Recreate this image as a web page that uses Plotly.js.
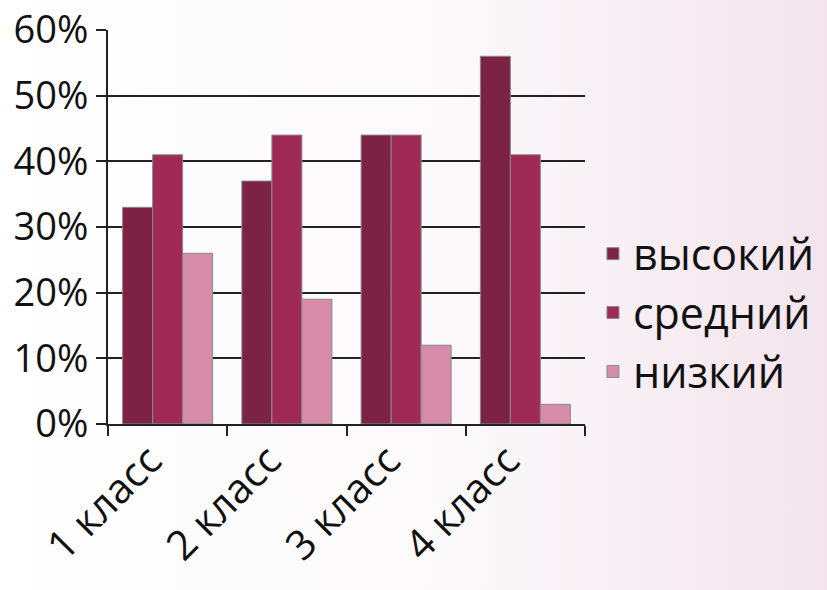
<!DOCTYPE html>
<html>
<head>
<meta charset="utf-8">
<script src="https://cdn.plot.ly/plotly-3.0.1.min.js"></script>
<style>
html,body{margin:0;padding:0;}
body{width:827px;height:590px;background:linear-gradient(90deg,#ffffff 0%,#fbf9fa 55%,#f3e4ec 100%);}
#chart{width:827px;height:590px;}
</style>
</head>
<body>
<div id="chart"></div>
<script>
var categories = ["1 класс", "2 класс", "3 класс", "4 класс"];
var seriesNames = ["высокий", "средний", "низкий"];
var vysokiy = [0.33, 0.37, 0.44, 0.56];
var sredniy = [0.41, 0.44, 0.44, 0.41];
var nizkiy = [0.26, 0.19, 0.12, 0.03];
var yTicks = [0, 0.1, 0.2, 0.3, 0.4, 0.5, 0.6];
var yTickLabels = ["0%", "10%", "20%", "30%", "40%", "50%", "60%"];

var colors = ["#7c2244", "#a02a56", "#d68ca8"];
var data = [vysokiy, sredniy, nizkiy].map(function(vals, i){
  return {
    type: "bar",
    name: seriesNames[i],
    x: categories,
    y: vals,
    marker: {color: colors[i], line: {color: "#8a8a8a", width: 1}}
  };
});

var layout = {
  width: 827, height: 590,
  margin: {l: 108, r: 242, t: 30, b: 166},
  paper_bgcolor: "rgba(0,0,0,0)",
  plot_bgcolor: "rgba(0,0,0,0)",
  barmode: "group",
  bargap: 0.245,
  bargroupgap: 0,
  font: {family: "Open Sans, sans-serif", color: "#111"},
  xaxis: {
    type: "category",
    tickangle: -45,
    tickson: "boundaries",
    ticks: "outside",
    ticklen: 10,
    tickwidth: 2,
    tickcolor: "#222",
    showline: true,
    linecolor: "#222",
    linewidth: 2,
    showgrid: false,
    ticklabelshift: -18,
    ticklabelstandoff: -6,
    tickfont: {size: 41, family: "Open Sans, sans-serif"},
    automargin: false
  },
  yaxis: {
    range: [0, 0.6],
    tickvals: yTicks,
    ticktext: yTickLabels,
    ticks: "outside",
    ticklen: 10,
    tickwidth: 2,
    tickcolor: "#222",
    showline: true,
    linecolor: "#222",
    linewidth: 2,
    showgrid: true,
    gridcolor: "#222",
    gridwidth: 2,
    zeroline: false,
    tickfont: {size: 38, family: "Open Sans, sans-serif"},
    automargin: false
  },
  legend: {
    xref: "container", yref: "container",
    x: 0.717, xanchor: "left",
    y: 0.47, yanchor: "middle",
    font: {size: 43, family: "Open Sans, sans-serif"},
    bgcolor: "rgba(0,0,0,0)",
    itemwidth: 30,
    tracegroupgap: 0
  },
  showlegend: true
};

Plotly.newPlot("chart", data, layout, {displayModeBar: false, staticPlot: true});
</script>
</body>
</html>
